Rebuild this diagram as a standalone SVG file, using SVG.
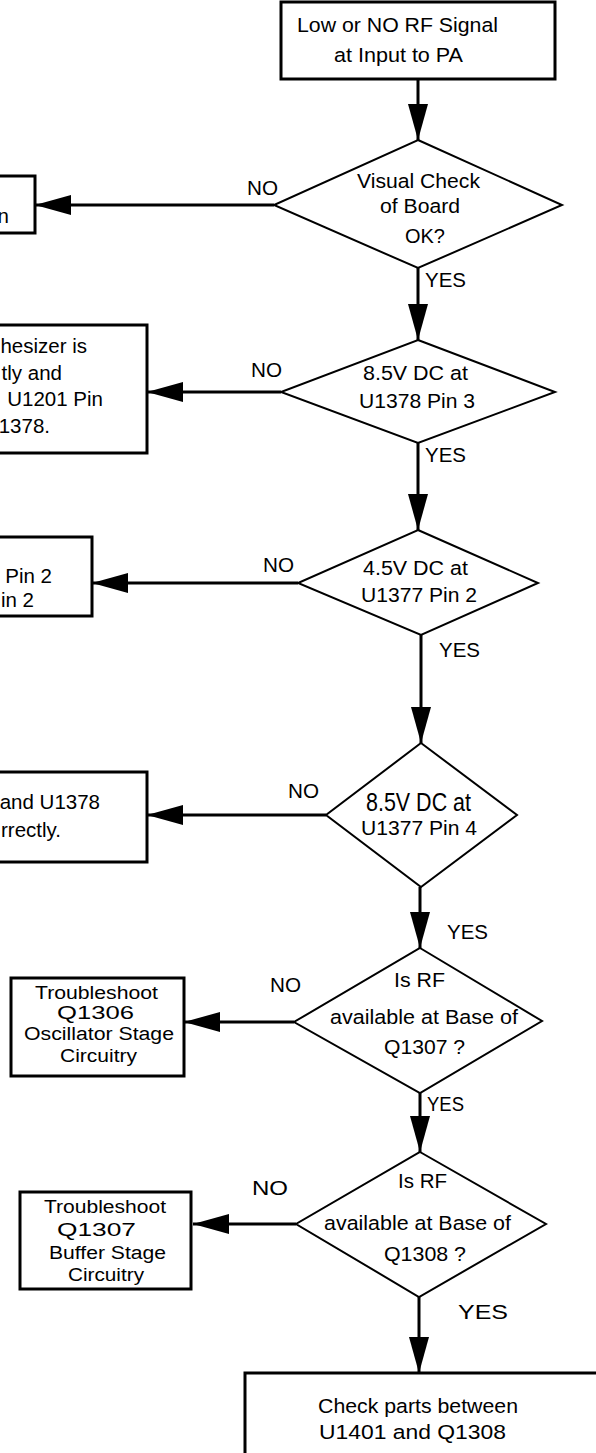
<svg xmlns="http://www.w3.org/2000/svg" width="596" height="1453" viewBox="0 0 596 1453">
<style>
.box{fill:#fff;stroke:#000;stroke-width:3}
.dia{fill:#fff;stroke:#000;stroke-width:2}
.c{fill:none;stroke:#000;stroke-width:3}
text{font-family:"Liberation Sans",Arial,Helvetica,sans-serif;font-size:20.5px;fill:#000}
.sm{font-size:18px}
</style>
<defs>
<marker id="ah" markerUnits="userSpaceOnUse" markerWidth="36" markerHeight="20" refX="36" refY="10" orient="auto">
<path d="M0,0 L36,10 L0,20 Z" fill="#000"/>
</marker>
</defs>
<rect width="596" height="1453" fill="#fff"/>
<g id="connectors">
<line class="c" x1="418" y1="79" x2="418" y2="140" marker-end="url(#ah)"/>
<line class="c" x1="274" y1="205" x2="35" y2="205" marker-end="url(#ah)"/>
<line class="c" x1="418" y1="268" x2="418" y2="340" marker-end="url(#ah)"/>
<line class="c" x1="281" y1="392" x2="147" y2="392" marker-end="url(#ah)"/>
<line class="c" x1="418" y1="443" x2="418" y2="530" marker-end="url(#ah)"/>
<line class="c" x1="298" y1="583" x2="92" y2="583" marker-end="url(#ah)"/>
<line class="c" x1="421" y1="635" x2="421" y2="743" marker-end="url(#ah)"/>
<line class="c" x1="326" y1="815" x2="147" y2="815" marker-end="url(#ah)"/>
<line class="c" x1="420" y1="887" x2="420" y2="948" marker-end="url(#ah)"/>
<line class="c" x1="294" y1="1022" x2="184" y2="1022" marker-end="url(#ah)"/>
<line class="c" x1="420" y1="1093" x2="420" y2="1152" marker-end="url(#ah)"/>
<line class="c" x1="296" y1="1224" x2="193" y2="1224" marker-end="url(#ah)"/>
<line class="c" x1="419" y1="1297" x2="419" y2="1373" marker-end="url(#ah)"/>
<text x="247" y="195" textLength="31" lengthAdjust="spacingAndGlyphs">NO</text>
<text x="425" y="287" textLength="41" lengthAdjust="spacingAndGlyphs">YES</text>
<text x="251" y="377" textLength="31" lengthAdjust="spacingAndGlyphs">NO</text>
<text x="425" y="462" textLength="41" lengthAdjust="spacingAndGlyphs">YES</text>
<text x="263" y="572" textLength="31" lengthAdjust="spacingAndGlyphs">NO</text>
<text x="439" y="657" textLength="41" lengthAdjust="spacingAndGlyphs">YES</text>
<text x="288" y="798" textLength="31" lengthAdjust="spacingAndGlyphs">NO</text>
<text x="447" y="939" textLength="41" lengthAdjust="spacingAndGlyphs">YES</text>
<text x="270" y="992" textLength="31" lengthAdjust="spacingAndGlyphs">NO</text>
<text x="427" y="1111" textLength="37" lengthAdjust="spacingAndGlyphs">YES</text>
<text x="252" y="1195" textLength="36" lengthAdjust="spacingAndGlyphs">NO</text>
<text x="458" y="1319" textLength="50" lengthAdjust="spacingAndGlyphs">YES</text>
</g>
<g id="start">
<rect class="box" x="281" y="2" width="274" height="77"/>
<text x="297" y="32" textLength="201" lengthAdjust="spacingAndGlyphs">Low or NO RF Signal</text>
<text x="334" y="62" textLength="129" lengthAdjust="spacingAndGlyphs">at Input to PA</text>
</g>
<g id="visual-check">
<polygon class="dia" points="418,140 562,205 418,268 274,205"/>
<text x="357" y="188" textLength="123" lengthAdjust="spacingAndGlyphs">Visual Check</text>
<text x="380" y="213" textLength="80" lengthAdjust="spacingAndGlyphs">of Board</text>
<text x="405" y="243" textLength="40" lengthAdjust="spacingAndGlyphs">OK?</text>
</g>
<g id="box1">
<rect class="box" x="-10" y="176" width="45" height="57"/>
<text x="9" y="223" text-anchor="end">n</text>
</g>
<g id="d-85-u1378">
<polygon class="dia" points="418,340 555,392 418,443 281,392"/>
<text x="363" y="380" textLength="105" lengthAdjust="spacingAndGlyphs">8.5V DC at</text>
<text x="359" y="408" textLength="116" lengthAdjust="spacingAndGlyphs">U1378 Pin 3</text>
</g>
<g id="box2">
<rect class="box" x="-10" y="325" width="157" height="128"/>
<text x="87" y="353" text-anchor="end">hesizer is</text>
<text x="62" y="380" text-anchor="end">tly and</text>
<text x="103" y="406" text-anchor="end">U1201 Pin</text>
<text x="50" y="433" text-anchor="end">1378.</text>
</g>
<g id="d-45-u1377">
<polygon class="dia" points="418,530 538,583 421,635 298,583"/>
<text x="363" y="575" textLength="105" lengthAdjust="spacingAndGlyphs">4.5V DC at</text>
<text x="361" y="602" textLength="116" lengthAdjust="spacingAndGlyphs">U1377 Pin 2</text>
</g>
<g id="box3">
<rect class="box" x="-10" y="537" width="102" height="79"/>
<text x="52" y="583" text-anchor="end">Pin 2</text>
<text x="34" y="607" text-anchor="end">in 2</text>
</g>
<g id="d-85-u1377">
<polygon class="dia" points="421,743 517,815 421,887 326,815"/>
<text x="366" y="811" textLength="105" lengthAdjust="spacingAndGlyphs" style="font-size:25px">8.5V DC at</text>
<text x="361" y="835" textLength="116" lengthAdjust="spacingAndGlyphs">U1377 Pin 4</text>
</g>
<g id="box4">
<rect class="box" x="-10" y="772" width="157" height="90"/>
<text x="100" y="809" text-anchor="end">and U1378</text>
<text x="61" y="837" text-anchor="end">rrectly.</text>
</g>
<g id="d-rf-q1307">
<polygon class="dia" points="420,948 542,1021 420,1093 294,1022"/>
<text x="394" y="987" textLength="51" lengthAdjust="spacingAndGlyphs">Is RF</text>
<text x="330" y="1024" textLength="188" lengthAdjust="spacingAndGlyphs">available at Base of</text>
<text x="384" y="1054" textLength="81" lengthAdjust="spacingAndGlyphs">Q1307 ?</text>
</g>
<g id="box5">
<rect class="box" x="11" y="978" width="173" height="98"/>
<text class="sm" x="35" y="999" textLength="123" lengthAdjust="spacingAndGlyphs">Troubleshoot</text>
<text class="sm" x="57" y="1019" textLength="77" lengthAdjust="spacingAndGlyphs">Q1306</text>
<text class="sm" x="24" y="1040" textLength="150" lengthAdjust="spacingAndGlyphs">Oscillator Stage</text>
<text class="sm" x="60" y="1062" textLength="77" lengthAdjust="spacingAndGlyphs">Circuitry</text>
</g>
<g id="d-rf-q1308">
<polygon class="dia" points="420,1152 546,1224 419,1297 296,1224"/>
<text x="398" y="1188" textLength="49" lengthAdjust="spacingAndGlyphs">Is RF</text>
<text x="324" y="1230" textLength="187" lengthAdjust="spacingAndGlyphs">available at Base of</text>
<text x="384" y="1261" textLength="82" lengthAdjust="spacingAndGlyphs">Q1308 ?</text>
</g>
<g id="box6">
<rect class="box" x="20" y="1192" width="171" height="97"/>
<text class="sm" x="44" y="1213" textLength="122" lengthAdjust="spacingAndGlyphs">Troubleshoot</text>
<text class="sm" x="57" y="1236" textLength="79" lengthAdjust="spacingAndGlyphs">Q1307</text>
<text class="sm" x="49" y="1259" textLength="117" lengthAdjust="spacingAndGlyphs">Buffer Stage</text>
<text class="sm" x="68" y="1281" textLength="76" lengthAdjust="spacingAndGlyphs">Circuitry</text>
</g>
<g id="end">
<rect class="box" x="245" y="1373" width="360" height="90"/>
<text x="318" y="1413" textLength="200" lengthAdjust="spacingAndGlyphs">Check parts between</text>
<text x="319" y="1439" textLength="187" lengthAdjust="spacingAndGlyphs">U1401 and Q1308</text>
</g>
</svg>
